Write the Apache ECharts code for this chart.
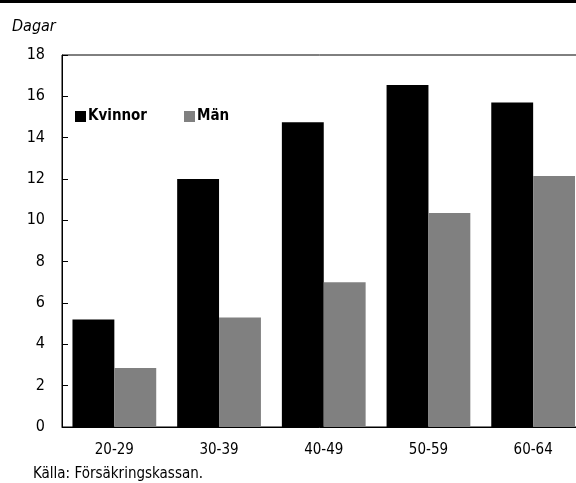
<!DOCTYPE html>
<html>
<head>
<meta charset="utf-8">
<script src="https://cdn.jsdelivr.net/npm/echarts@6/dist/echarts.min.js"></script>
<style>
html,body{margin:0;padding:0;background:#fff;}
#c{width:576px;height:483px;}
</style>
</head>
<body>
<div id="c"></div>
<script>
var categories = ['20-29', '30-39', '40-49', '50-59', '60-64'];
var kvinnor = [5.2, 12.0, 14.75, 16.55, 15.7];
var man = [2.85, 5.3, 7.0, 10.35, 12.15];
var seriesNames = ['Kvinnor', 'Män'];
var yTicks = [0, 2, 4, 6, 8, 10, 12, 14, 16, 18];

var FONT = '"Liberation Sans Narrow", "DejaVu Sans Condensed", "Roboto Condensed", sans-serif';
var chart = echarts.init(document.getElementById('c'), null, {renderer: 'canvas'});
chart.setOption({
  backgroundColor: '#fff',
  animation: false,
  textStyle: {fontFamily: FONT, color: '#000'},
  grid: {left: 62, top: 55, bottom: 56, right: -9.5, outerBoundsMode: 'none', containLabel: false,
         show: true, borderColor: '#000', borderWidth: 1, backgroundColor: 'transparent'},
  legend: [
    {data: [seriesNames[0]], left: 75, top: 109, padding: 0, itemWidth: 11, itemHeight: 11, icon: 'rect',
     textStyle: {fontFamily: FONT, fontSize: 15, fontWeight: 'bold', color: '#000', padding: [0, 0, 0, -3]}},
    {data: [seriesNames[1]], left: 184, top: 109, padding: 0, itemWidth: 11, itemHeight: 11, icon: 'rect',
     textStyle: {fontFamily: FONT, fontSize: 15, fontWeight: 'bold', color: '#000', padding: [0, 0, 0, -3]}}
  ],
  xAxis: [
    {type: 'category', data: categories, position: 'bottom',
     axisLine: {lineStyle: {color: '#000', width: 1}},
     axisTick: {inside: true, length: 5, lineStyle: {color: '#000'}},
     axisLabel: {fontFamily: FONT, fontSize: 15, color: '#000', margin: 16}},
    {type: 'category', data: categories, position: 'bottom',
     axisLine: {show: false},
     axisTick: {inside: false, length: 5, lineStyle: {color: '#000'}},
     axisLabel: {show: false}}
  ],
  yAxis: {type: 'value', min: yTicks[0], max: yTicks[yTicks.length - 1], interval: 2,
    axisLine: {show: true, lineStyle: {color: '#000', width: 1}},
    axisTick: {show: true, inside: true, length: 6, lineStyle: {color: '#000'}},
    splitLine: {show: false},
    axisLabel: {fontFamily: FONT, fontSize: 16, color: '#000', margin: 17}},
  series: [
    {name: seriesNames[0], type: 'bar', data: kvinnor, barGap: '0%', barCategoryGap: '20%',
     itemStyle: {color: '#000'}},
    {name: seriesNames[1], type: 'bar', data: man, barGap: '0%', barCategoryGap: '20%',
     itemStyle: {color: '#808080'}}
  ],
  graphic: [
    {type: 'rect', left: 0, top: 0, shape: {width: 576, height: 3}, style: {fill: '#000'}},
    {type: 'text', left: 12, top: 19, style: {text: 'Dagar', font: 'italic 16px ' + FONT, fill: '#000'}},
    {type: 'text', left: 33, top: 467, style: {text: 'Källa: Försäkringskassan.', font: '15px ' + FONT, fill: '#000'}}
  ]
});
</script>
</body>
</html>
